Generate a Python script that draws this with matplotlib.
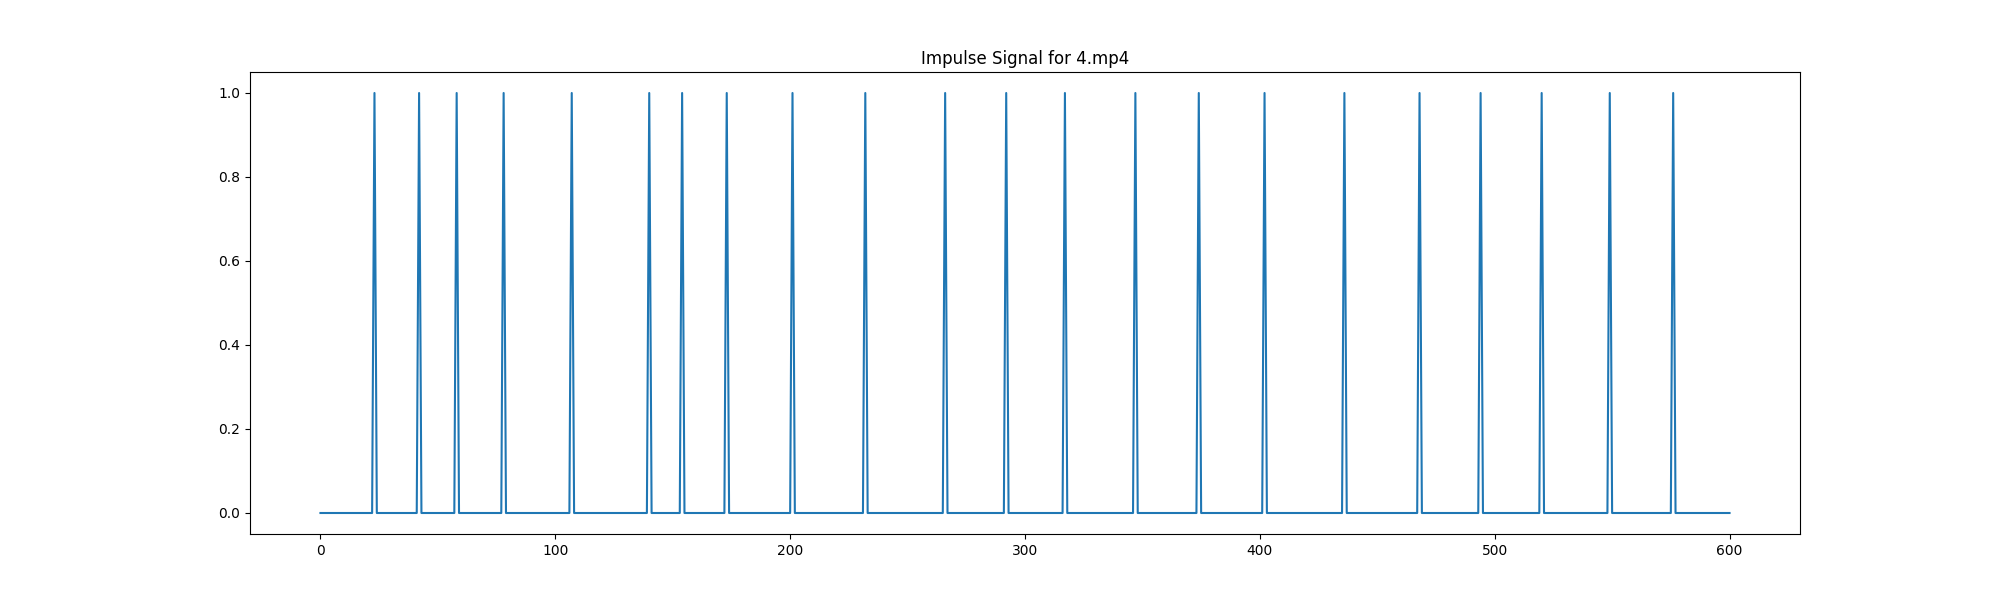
import numpy as np
import matplotlib
matplotlib.use("Agg")
import matplotlib.pyplot as plt

n_frames = 601
impulse_frames = [23, 42, 58, 78, 107, 140, 154, 173, 201, 232, 266, 292,
                  317, 347, 374, 402, 436, 468, 494, 520, 549, 576]
title = "Impulse Signal for 4.mp4"

signal = np.zeros(n_frames)
signal[impulse_frames] = 1.0

fig, ax = plt.subplots(figsize=(20, 6), dpi=100)
ax.plot(np.arange(n_frames), signal)
ax.set_title(title)
fig.savefig("out.png")
